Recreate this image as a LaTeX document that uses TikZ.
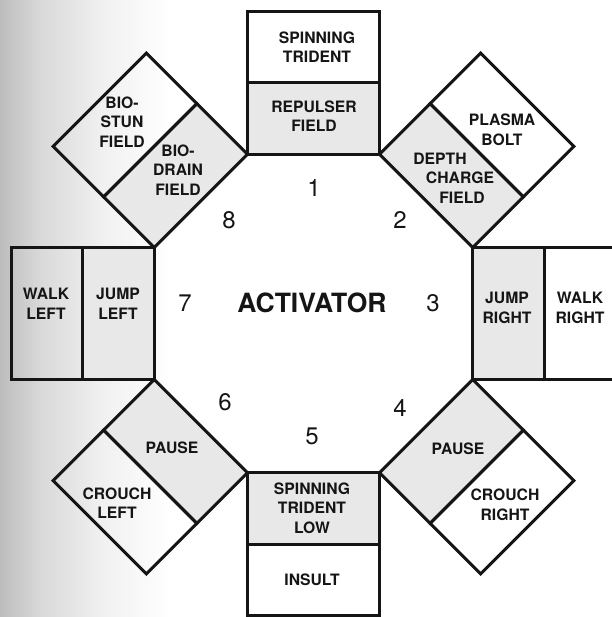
\documentclass[tikz,border=0pt]{standalone}
\usepackage{fontspec}
\setmainfont{TeX Gyre Heros}
\definecolor{ink}{HTML}{151515}
\definecolor{boxgray}{HTML}{E8E8E8}
\begin{document}
\begin{tikzpicture}[x=1pt,y=1pt,
  lbl/.style={font=\bfseries\fontsize{15.7}{19.5}\selectfont, align=center, text=ink, inner sep=0pt},
  num/.style={font=\fontsize{24}{24}\selectfont, text=ink, inner sep=0pt},
  title/.style={font=\bfseries\fontsize{26.5}{26.5}\selectfont, text=ink, inner sep=0pt},
  innerbox/.style={draw=ink, line width=3pt, fill=boxgray, line join=miter},
  outerbox/.style={draw=ink, line width=3pt, line join=miter}]
\useasboundingbox (0,0) rectangle (611,617);
% scan shading on the left margin
\fill[left color=black!26, right color=black!15, draw=none] (0,0) rectangle (40,617);
\fill[left color=black!15, right color=black!6, draw=none] (40,0) rectangle (100,617);
\fill[left color=black!6, right color=white, draw=none] (100,0) rectangle (170,617);
\coordinate (C) at (313.5,303.5);
% boxes (k = side of the octagon, clockwise from the top)
\foreach \k in {0,...,7}{
  \begin{scope}[shift={(C)}, rotate=-45*\k]
    \draw[innerbox] (-66,159.3) -- (66,159.3) -- (66,230.8) -- (-66,230.8) -- cycle;
    \draw[outerbox] (-66,230.8) -- (66,230.8) -- (66,302.3) -- (-66,302.3) -- cycle;
  \end{scope}
}
% labels, placed in image coordinates (x, y from the top)
\foreach \k/\txt/\px/\py in {
  t0/{SPINNING\\TRIDENT}/317/47,
  t1/{REPULSER\\FIELD}/314/116,
  t2/{PLASMA\\BOLT}/502/130,
  t3/{DEPTH\hspace*{40pt}\\CHARGE\\\hspace*{4pt}FIELD}/460/178,
  t4/{JUMP\\RIGHT}/507/308,
  t5/{WALK\\RIGHT}/580/308,
  t6/{PAUSE}/458/449,
  t7/{CROUCH\\RIGHT}/505/505,
  t8/{SPINNING\\TRIDENT\\LOW}/312/508,
  t9/{INSULT}/312/580,
  t10/{PAUSE}/172/448,
  t11/{CROUCH\\LEFT}/117/503,
  t12/{JUMP\\LEFT}/118/304,
  t13/{WALK\\LEFT}/46/304,
  t14/{BIO-\\DRAIN\\FIELD}/178/170,
  t15/{BIO-\\STUN\\FIELD}/122/122}{
  \node[lbl] (\k) at ({\px},{617-\py}) {\txt};
}
\node[title] (act) at (312,314) {ACTIVATOR};
\node[num] (n1) at (314,429) {1};
\node[num] (n2) at (400,397) {2};
\node[num] (n3) at (433,314) {3};
\node[num] (n4) at (400,209) {4};
\node[num] (n5) at (312,181) {5};
\node[num] (n6) at (225,215) {6};
\node[num] (n7) at (185,314) {7};
\node[num] (n8) at (229,397) {8};
\end{tikzpicture}
\end{document}
